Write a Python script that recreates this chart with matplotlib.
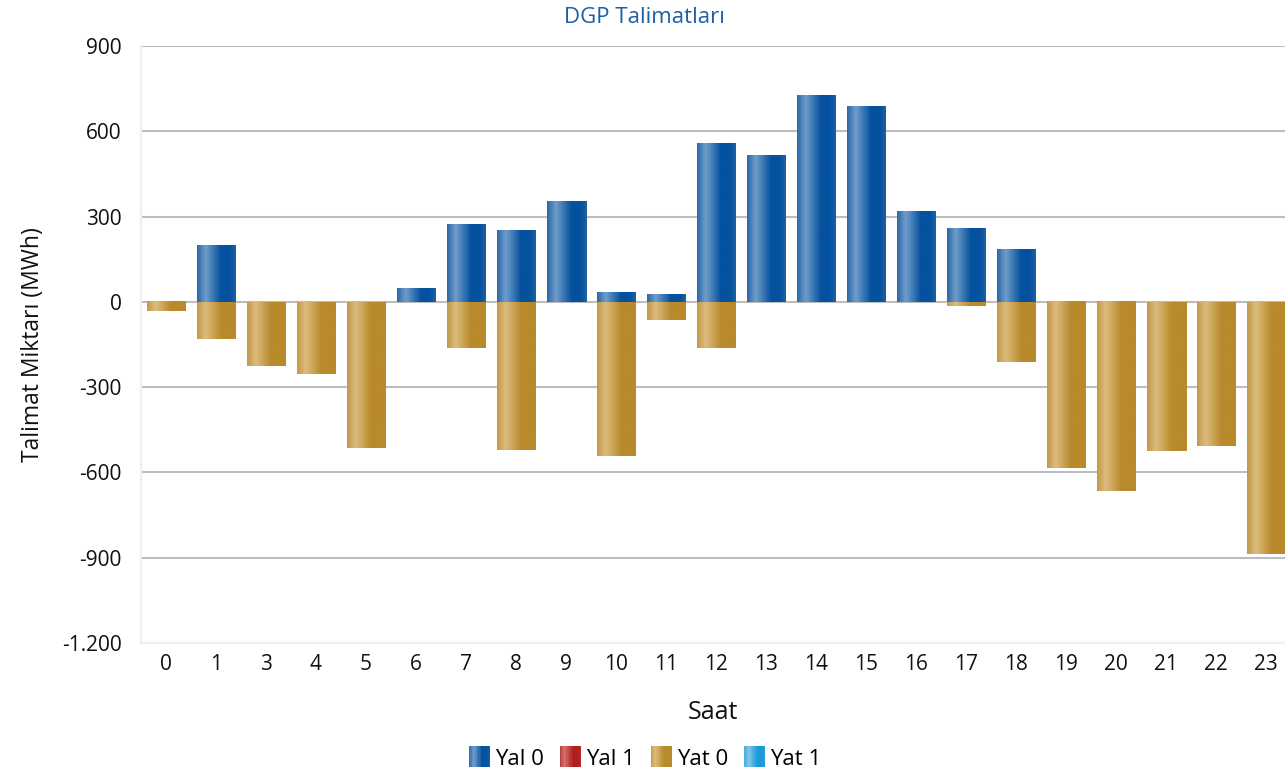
import numpy as np
import matplotlib
matplotlib.use('Agg')
import matplotlib.pyplot as plt
from matplotlib.colors import LinearSegmentedColormap
from matplotlib.legend_handler import HandlerBase
from matplotlib.patches import Rectangle, Patch
from matplotlib.ticker import FuncFormatter

plt.rcParams['font.family'] = ['Open Sans', 'DejaVu Sans']

hours = ['0', '1', '3', '4', '5', '6', '7', '8', '9', '10', '11', '12',
         '13', '14', '15', '16', '17', '18', '19', '20', '21', '22', '23']
yal0 = [0, 200, 0, 0, 0, 46, 271, 250, 355, 32, 25, 556,
        517, 725, 689, 320, 257, 186, 0, 0, 0, 0, 0]
yal1 = [0] * 23
yat0 = [-32, -130, -225, -253, -513, 0, -162, -520, 0, -542, -63, -162,
        0, 0, 0, 0, -14, -211, -584, -665, -524, -506, -886]
yat1 = [0] * 23

series = ['Yal 0', 'Yal 1', 'Yat 0', 'Yat 1']
# (edge, light, dark, right edge) colours for the glossy gradient
grads = {
    'Yal 0': ('#2c68a8', '#709dca', '#04519e', '#1e60a2'),
    'Yal 1': ('#b83434', '#d67272', '#b02020', '#b42a2a'),
    'Yat 0': ('#c49a48', '#dcbc7e', '#b98a2c', '#b98a2c'),
    'Yat 1': ('#42a8dc', '#7fc7ec', '#1e9ad8', '#2aa0da'),
}


def make_cmap(name):
    edge, light, dark, right = grads[name]
    return LinearSegmentedColormap.from_list(
        name, [(0, edge), (0.22, light), (0.62, dark), (0.85, dark), (1, right)])


grad_row = np.linspace(0, 1, 64).reshape(1, -1)


class GradHandler(HandlerBase):
    def create_artists(self, legend, orig_handle, xd, yd, w, h, fontsize, trans):
        cmap = make_cmap(orig_handle.get_label())
        n = 16
        h2 = w
        y0 = yd + h / 2 - h2 / 2
        out = []
        for i in range(n):
            r = Rectangle((xd + w * i / n, y0), w / n + 0.3, h2,
                          facecolor=cmap((i + 0.5) / n), edgecolor='none', transform=trans)
            out.append(r)
        return out


fig = plt.figure(figsize=(12.85, 7.77), dpi=100)
ax = fig.add_axes([141 / 1285, 134 / 777, 1 - 141 / 1285, (643 - 46) / 777])

x = np.arange(len(hours))
width = 0.78

for name, vals in [('Yat 0', yat0), ('Yat 1', yat1), ('Yal 0', yal0), ('Yal 1', yal1)]:
    bars = ax.bar(x, vals, width, color='none', edgecolor='none', zorder=2)
    cmap = make_cmap(name)
    for b in bars:
        if b.get_height() == 0:
            continue
        y_a, y_b = b.get_y(), b.get_y() + b.get_height()
        ax.imshow(grad_row, cmap=cmap, aspect='auto', interpolation='bilinear',
                  extent=(b.get_x(), b.get_x() + b.get_width(), min(y_a, y_b), max(y_a, y_b)),
                  zorder=3)

ax.set_xlim(-0.5, 22.38)
ax.set_ylim(-1200, 900)
ax.set_xticks(x)
ax.set_xticklabels(hours)
ax.set_yticks(np.arange(-1200, 901, 300))
ax.yaxis.set_major_formatter(FuncFormatter(lambda v, p: '{:,.0f}'.format(v).replace(',', '.')))
ax.tick_params(axis='both', length=0, labelsize=15, colors='#111111')
ax.tick_params(axis='x', pad=8)
ax.tick_params(axis='y', pad=14)
ax.grid(axis='y', color='#bdbdbd', linewidth=1.5, zorder=1)
ax.set_axisbelow(True)
for s in ['top', 'right']:
    ax.spines[s].set_visible(False)
for s in ['left', 'bottom']:
    ax.spines[s].set_color('#f0f0f0')
    ax.spines[s].set_linewidth(1.5)

ax.set_ylabel('Talimat Miktarı (MWh)', fontsize=16.5, color='#111111', labelpad=12)
ax.set_xlabel('Saat', fontsize=18, color='#111111', labelpad=18)
fig.text(0.5015, 0.978, 'DGP Talimatları', ha='center', va='center', fontsize=16, color='#1c5fa8')

handles = [Patch(label=s) for s in series]
fig.legend(handles=handles, labels=series, loc='center', bbox_to_anchor=(0.502, 0.023),
           ncol=4, frameon=False, fontsize=16, handler_map={Patch: GradHandler()},
           handlelength=0.95, handletextpad=0.22, columnspacing=0.72)

fig.savefig('out.png', dpi=100)
